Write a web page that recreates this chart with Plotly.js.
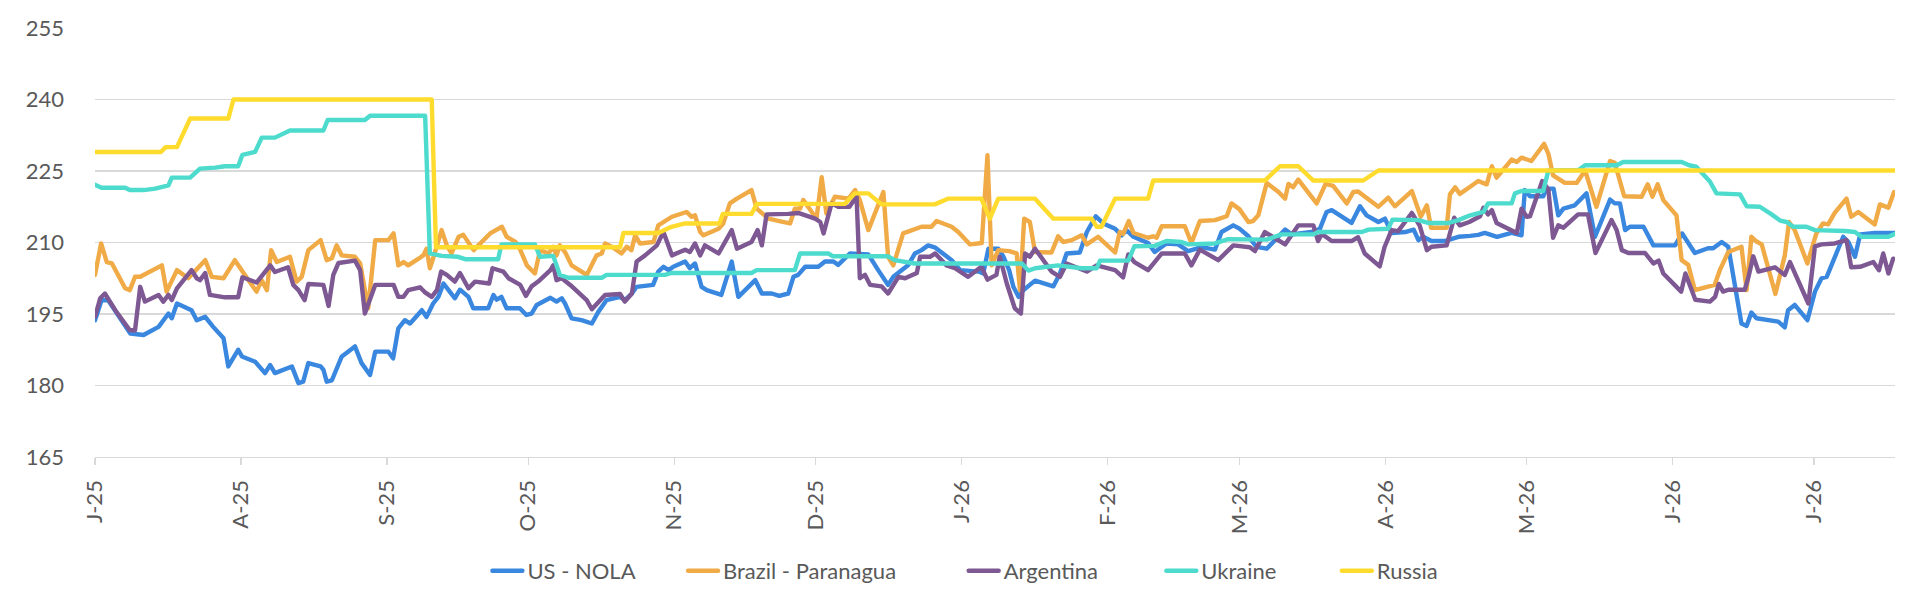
<!DOCTYPE html>
<html>
<head>
<meta charset="utf-8">
<script src="https://cdn.plot.ly/plotly-3.0.1.min.js"></script>
<style>
html,body{margin:0;padding:0;background:#fff;}
#chart{width:1920px;height:608px;}
path.js-line{stroke-linejoin:round;stroke-linecap:round;}
</style>
</head>
<body>
<div id="chart"></div>
<script>
// x values are days since 1 July 2025, y values in USD/t
const usNola = [[0,193.7],[1.4,197.9],[2.8,197.9],[7.5,190.9],[10.3,190.6],[13.5,192.3],[15.6,195.1],[16.3,194.1],[17.4,197.2],[20.5,195.8],[21.6,193.7],[23.4,194.4],[25.1,192.3],[27.3,189.9],[28.3,184],[30.4,187.5],[31.2,186.1],[34,185],[36.1,182.6],[37.2,184.3],[38.2,182.6],[41.8,184],[43.2,180.5],[44.2,180.8],[45.3,184.7],[47.9,184],[48.5,183.3],[49.2,180.8],[50.3,181.1],[52.4,186.1],[55.2,188.2],[56.6,184.7],[58.4,182.2],[59.5,187.1],[62.3,187.1],[63.3,185.7],[64.4,192],[65.8,193.7],[66.9,193],[69.4,195.8],[70.4,194.4],[71.8,197.2],[72.9,198.6],[74,201.4],[75.4,199.6],[76.4,198.3],[77.5,200.1],[78.6,199],[79.3,198.6],[80.3,196.2],[83.5,196.2],[84.6,199],[85.3,198],[86.3,198.6],[87.4,196.2],[90.2,196.2],[91.6,194.8],[92.7,195.1],[93.8,196.9],[96.7,198.4],[98,197.6],[99.1,198.3],[99.8,197.2],[101.2,194.1],[103.3,193.7],[105.5,193],[106.9,195.5],[108.6,197.9],[111.5,198.6],[112.5,197.9],[114,199.3],[115,200.7],[118.5,201.1],[119.6,203.9],[120.7,204.9],[121.8,204.2],[122.8,204.9],[125.3,206],[126.3,204.6],[127.4,205.6],[128.8,200.7],[129.9,200],[133,199],[135.2,206],[136.6,198.6],[140.2,202.1],[141.6,199.3],[143.7,199.3],[145.3,198.8],[147.2,199.3],[148.3,202.8],[149.3,203.2],[150.8,204.9],[153.6,204.9],[155,206],[156.8,206],[157.8,205.3],[160.3,207.7],[164.2,207.5],[166.3,204.2],[168.4,201.1],[169.5,202.8],[171.6,204.6],[172.7,205.3],[174.1,207.7],[175.5,208.4],[176.9,209.4],[178.3,209],[181.9,206.3],[183.7,204.2],[187.6,203.9],[188.6,203.5],[189.7,208.7],[191.8,208.7],[192.9,207],[194.1,204.2],[195,200.7],[196.1,198.6],[197.1,200],[199.6,202],[203.5,200.8],[204.9,203.5],[206.3,207.7],[209.1,207.9],[210.6,212.2],[212.5,215.5],[214.1,214],[216.6,212.9],[218,211.5],[219,212.6],[220.5,211.2],[223.6,209.9],[225,208],[226.5,209.1],[227.5,209.8],[230,209.6],[232.1,208.2],[233.9,208.7],[234.6,209.1],[237.8,208.5],[239.2,212.2],[241.7,213.6],[243,212.9],[244.9,211.3],[246.6,209.1],[248.8,208.7],[252.7,212.7],[254.1,211.7],[258.3,212.2],[260.1,212.9],[261.5,216.4],[262.6,216.8],[266.8,214.1],[268.6,217.6],[270,215.7],[272.5,214.3],[273.9,215],[275.3,212],[278.2,212.2],[280,212.7],[281,210.5],[282,211.2],[283.8,210.3],[286.6,210.3],[289.5,211.2],[292,211.4],[293.7,211.6],[295.1,212],[297.7,211.2],[300.8,212],[302.9,211.5],[303.6,221],[304.7,219.7],[307.5,219.7],[308.2,221.3],[309.7,221.3],[310.7,215.7],[311.8,217.1],[314.2,217.8],[316.7,220.3],[318.5,211.2],[321.7,219],[322.7,218.2],[323.8,218.2],[324.9,212.6],[325.9,213.3],[328.8,213.3],[330.9,209.4],[335.5,209.4],[337,211.9],[338.3,210.1],[339.7,207.8],[342.5,208.8],[343.6,208.8],[345.4,210.1],[346.8,209.1],[349.6,193],[350.7,192.5],[351.7,195.3],[352.8,194.1],[357.4,193.4],[358.8,192.2],[359.5,195.8],[360.9,196.9],[363.6,193.7],[365.2,199.7],[366.6,202.5],[367.7,202.8],[371.2,211.2],[372.3,210.1],[373.7,207],[374.8,211.7],[377.9,212],[382.1,212]];

const brazil = [[0,203.2],[1.3,209.8],[2.5,205.9],[3.6,205.6],[6.4,200.4],[7.4,200],[8.5,202.8],[9.6,202.8],[14.2,205.2],[15.2,199.7],[17.4,204.2],[19.8,202.5],[23.4,206.3],[24.8,202.8],[27.3,202.5],[29.7,206.3],[32.6,202.1],[34.3,199.7],[35.4,202.1],[36.5,200],[37.4,208.4],[38.6,205.9],[41.4,207],[42.8,201.8],[43.9,202.8],[45.3,208.4],[47.9,210.5],[49.2,206.3],[50.3,206.7],[51.3,209.4],[52.4,207.3],[55.2,207],[56.3,205.6],[58,196.2],[59.5,210.5],[62.3,210.5],[63.4,211.9],[64.4,205.2],[65.5,205.9],[66.5,205.2],[68.7,206.6],[69.7,207.3],[70.4,208.7],[71.1,204.6],[71.9,207],[73.6,212.6],[74.7,209.4],[75.7,207.7],[77.2,211.2],[78.2,211.6],[80.4,208.4],[82.1,210.2],[83.9,211.9],[86.4,213.3],[87.4,211.2],[89.2,210.2],[89.9,209.4],[91.7,205.2],[93.4,203.5],[94.5,208.4],[96.3,207.7],[97.3,209.1],[98,207.3],[98.7,209.4],[99.8,208],[101.2,205.2],[104.4,203.2],[106.5,207.3],[107.6,207.7],[108.3,209.8],[109.7,209.1],[111.8,207.7],[112.9,209.1],[113.9,208.4],[114.7,211.5],[115.7,209.8],[118.6,210.1],[119.6,213.6],[120.7,214.3],[122.5,215.4],[125.6,216.4],[126.7,215.4],[127.4,215.7],[128.5,212.2],[129.2,211.5],[132.4,212.9],[133.4,214],[134.8,218.2],[136.3,219.2],[139.4,221],[140.5,217.1],[143,215],[145.3,214.5],[147.6,214],[148.6,217.1],[149.7,217.1],[150.4,218.9],[151.8,217.1],[153.2,215],[154.3,223.7],[155.3,216.1],[157.1,219.6],[160,219.2],[161.4,221],[162.4,218.9],[164.2,212.6],[167.4,220.6],[168.4,207],[169.5,205.2],[171.6,211.9],[175.5,213.3],[177.6,213.3],[178.7,214.5],[181.9,213.3],[183.3,212.2],[185.8,209.6],[188.3,209.9],[189.5,228.3],[190.4,205.2],[191.8,208.4],[194.1,208.2],[195.7,207.7],[196.4,200],[197.3,215],[198.5,214.3],[199.6,208],[203.1,207.9],[204.5,211.3],[205.6,210.1],[207.4,210.5],[209.5,211.5],[210.6,209.6],[213,211.2],[216.6,207.9],[217.6,212.2],[218.3,211.8],[219.5,214.5],[220.5,212],[223.6,211],[224.7,211.3],[225.4,211],[226.5,213.4],[231.4,213.4],[232.8,209.9],[234.6,214.5],[237.8,214.7],[240.3,215.5],[241.3,218.2],[243,217],[244.9,214.3],[245.9,214.5],[247,215.7],[248.8,222.5],[251.3,220.6],[252.7,219.2],[253.4,222.3],[254.4,221.6],[255.5,223.2],[259.4,218.2],[261.3,222.3],[262.9,221.9],[265.8,218.2],[267.2,220.6],[268.2,220.7],[272.5,217.5],[274.6,219.4],[276,217.6],[279.6,220.8],[281.5,215.4],[282.8,217.8],[283.7,213.1],[287,213.1],[287.7,220.1],[288.8,221.6],[289.8,220.2],[292,221.7],[293.7,222.9],[295.5,222.2],[296.6,226],[297.6,223.6],[300.8,227.4],[301.9,226.9],[302.9,227.8],[305,227.1],[307.7,230.7],[308.6,228.6],[309.6,224.1],[312.1,222.5],[314.6,222.5],[316.4,225.1],[318.8,217.5],[321.7,227.1],[322.7,226.7],[324.7,219.7],[328.4,219.6],[329.7,222.2],[330.7,219.6],[331.8,222.2],[333,218.9],[335.8,215.7],[336.9,206.3],[338.3,205.3],[339.7,200],[343.9,201.1],[345,204.2],[346.8,208],[349.6,209.1],[350.7,200],[351.7,211.2],[352.8,210.2],[353.9,209.6],[356.8,199.2],[358.8,207.3],[359.7,214.3],[360.9,212.6],[363.6,205.6],[365.5,211.9],[366.9,214],[368,213.8],[369.4,216.2],[371.9,219.2],[372.9,215.4],[374.4,216.4],[377.9,213.8],[379,218],[380.8,217.3],[382,220.6]];

const argentina = [[0,194.4],[1.1,198.3],[2.1,199.3],[4.3,195.8],[7.4,191.6],[8.5,191.6],[9.6,200.7],[10.6,197.6],[13.5,199],[14.5,197.6],[15.6,199],[16.3,197.9],[17.4,200.4],[20.5,204.2],[21.6,202.5],[22.3,202.1],[23.4,203.6],[24.4,199],[27.6,198.5],[30.4,198.5],[31.3,202.7],[34.3,201.6],[37.2,205.2],[38.2,203.8],[41,204.8],[42.1,201.1],[43.2,200],[44.5,197.9],[45.3,201.3],[48.5,201.1],[49.6,196.7],[50.6,203.2],[51.7,205.7],[55.2,206.2],[56.3,204.2],[57.3,195.1],[59.5,201.1],[63.4,201.1],[64.4,198.6],[65.5,198.6],[66.5,200],[69,200.6],[70,199.6],[71.5,198.6],[72.6,200],[73.5,203.9],[74.7,203.2],[76.4,201.8],[77.5,203.6],[79.3,200.4],[80.7,201.8],[83.7,201.4],[84.4,204.6],[86.7,203.9],[87.8,202.5],[90.3,201.1],[91.5,198.8],[92.7,200.8],[94.1,201.8],[96.7,204.2],[97.3,205.2],[98,202.1],[99.1,202.5],[100.9,201.1],[104.4,197.9],[105.5,196],[108.3,199],[111.5,199.2],[112.5,197.6],[114,199.3],[115,206],[116.8,207.3],[119.3,209.4],[120.7,212.2],[122.5,207.3],[125.3,208.5],[126.3,208],[127.4,209.8],[128.5,207.3],[129.5,209.4],[132.4,207.7],[135.2,212.6],[136.3,208.7],[139.4,210.1],[140.7,212.6],[141.6,209.4],[142.6,215.9],[145.5,215.9],[147.2,216],[149.3,216.2],[152.9,215],[154,214.3],[154.7,211.9],[156.4,218.2],[157.8,217.5],[160.2,217.5],[161.7,219.7],[162.4,202.5],[163.5,203.2],[164.6,201.1],[167,200.8],[168.4,199.3],[170.6,202.8],[172,202.5],[174.5,203.6],[175.2,207],[177.3,207],[178.4,207.7],[180.8,205.2],[182.6,204.6],[185.4,202.8],[188.2,204.9],[189.5,202.2],[191.4,203.2],[192.1,207],[193.6,201.4],[195.3,196.2],[196.6,195.1],[197.5,207.7],[198.5,207],[199.6,208.7],[203.1,203.9],[204.9,202.8],[206.3,205.6],[210.6,203.9],[212.7,205.2],[216.6,204.2],[218.3,202.7],[219.4,207.5],[220.7,205.9],[223.6,204.2],[225,205.9],[226.5,207.7],[231.4,207.7],[232.8,205.2],[234.6,208.5],[238.5,206.3],[241.7,209.4],[243,209.3],[245.2,209],[246.3,208.2],[247.4,210.1],[248.4,212.2],[252.7,209.6],[255.5,213.6],[258.7,213.6],[259.7,210.3],[260.5,211.8],[262.6,210.3],[266.8,210.3],[268.2,211.1],[269.6,207.7],[272.8,205],[273.8,209],[275.3,212.6],[276.7,212.4],[279.6,216.2],[281.3,213.5],[282.8,208.4],[283.8,209.1],[287,209.4],[288.6,215.2],[289.8,213.6],[291.8,214.3],[294.1,215.5],[294.8,217.3],[295.8,215.9],[296.6,216.8],[297.6,214.1],[301.9,212],[302.9,217.1],[304,215.4],[304.7,215.5],[307.3,222.9],[308.6,221.1],[309.6,211],[310.7,213.6],[311.8,213.1],[314.9,215.9],[317,215.9],[318.6,207.8],[322,214.7],[323.1,212.6],[324.2,208.4],[325.6,207.8],[329.1,207.8],[330.9,205.6],[332,206.2],[333,203.5],[336.8,199.7],[337.7,203.5],[339.8,198],[342.9,197.6],[344,198.6],[344.8,201.3],[345.7,199.7],[346.8,200.1],[350.3,200.1],[351,202.4],[352.1,207.1],[353.2,203.9],[356.7,204.8],[358.8,203.2],[359.9,205.9],[361.7,202.1],[363.8,197.2],[365.2,209.2],[366.6,209.6],[369.4,209.8],[371.9,210.5],[372.9,204.8],[374.8,204.9],[377.6,205.9],[378.8,204.2],[379.7,207.7],[380.8,203.5],[381.8,206.6]];

const ukraine = [[0,222.1],[1.4,221.5],[6.4,221.5],[7.4,221],[10.3,221],[12.8,221.3],[15.6,222],[16.3,223.6],[20.2,223.6],[22.3,225.5],[25.5,225.7],[27.6,226],[30.4,226],[31.3,228.4],[34,229],[35.4,232],[38.2,232],[41.4,233.5],[48.5,233.5],[49.4,235.7],[57.3,235.7],[58.4,236.6],[70.1,236.6],[71.1,207.7],[73.6,207.2],[77.1,207],[78.6,206.5],[85.6,206.5],[86.3,209.6],[93.4,209.6],[94.5,207],[97.3,207.2],[98.7,203.2],[100.5,202.6],[107.6,202.6],[108.6,203.2],[121,203.2],[122.4,203.6],[139.4,203.6],[140.5,204.2],[148.6,204.2],[149.7,207.7],[155.7,207.7],[156.7,207.1],[168.4,207.1],[169.8,206.3],[174.1,205.6],[193.9,205.7],[196.8,205.6],[198.2,204.1],[199.6,204.6],[204.5,205.2],[209.5,204.6],[212.7,204.6],[213.4,206.2],[219.4,206.2],[220.7,209.2],[225,209.3],[227.5,210.3],[230.7,210.1],[232.1,209.6],[237.8,209.8],[240.6,210.7],[248.8,210.6],[251.9,211.7],[258.7,211.7],[259.7,212.2],[269,212.2],[270.4,212.7],[274.6,212.9],[275.5,214.8],[281,214.7],[283.1,214.1],[287.4,214.1],[289.5,214.7],[292,215.7],[294.8,216.4],[295.8,218.2],[300.8,218.2],[301.5,220.3],[302.9,220.8],[307.5,220.8],[308.6,225.1],[315,225.2],[316.4,226.2],[323.1,226.2],[324.5,226.9],[336.9,226.9],[338.5,226.2],[340,225.9],[341.8,224.1],[342.9,222.8],[344.3,220.3],[349.3,220.1],[350.7,217.6],[353.5,217.5],[356,215.9],[357.8,214.6],[359.2,214.3],[360.6,213.3],[363.4,213.3],[365.2,212.6],[371.6,212.4],[373.7,212.2],[375.1,211.2],[380.8,211.2],[382.1,211.8]];

const russia = [[0,229],[14,229],[15,230],[17.4,230],[20.2,236],[28.3,236],[29.4,240],[71.5,240],[72.4,209],[111.5,209],[112.2,212],[119.6,212],[122.4,213.3],[125.3,214],[132.6,214],[133.3,216],[139.4,216],[140.5,218.1],[159.2,218.1],[161.3,220.3],[164.2,220.3],[167,218],[178.3,218],[181.1,219.2],[188.2,219.2],[190,215],[191.8,219.2],[199.6,219.2],[203.5,215],[211.6,215],[212.7,213.3],[213.7,213.3],[216.6,219.2],[223.6,219.2],[224.7,223],[248.4,223],[251.6,226],[255.5,226],[258.7,223],[269.3,223],[272.5,225.1],[382.1,225.1]];

const seriesNames = ['US - NOLA','Brazil - Paranagua','Argentina','Ukraine','Russia'];
const seriesData = [usNola, brazil, argentina, ukraine, russia];
const seriesColors = ['#3A87E0','#F0AA46','#7D5893','#4CDBCC','#FFDB2E'];

const tickDates = ['2025-07-01','2025-08-01','2025-09-01','2025-10-01','2025-11-01','2025-12-01','2026-01-01','2026-02-01','2026-03-01','2026-04-01','2026-05-01','2026-06-01','2026-07-01'];
const tickLabels = ['J-25','A-25','S-25','O-25','N-25','D-25','J-26','F-26','M-26','A-26','M-26','J-26','J-26'];

const T0 = Date.UTC(2025,6,1);
const toDate = d => new Date(T0 + d*86400000).toISOString().replace('T',' ').slice(0,19);

const legendX = [0.2180,0.3267,0.4826,0.5924,0.6899];
const legendKeys = ['legend','legend2','legend3','legend4','legend5'];

const traces = seriesData.map((s,i) => ({
  type:'scatter', mode:'lines', name:seriesNames[i],
  x:s.map(p=>toDate(p[0])), y:s.map(p=>p[1]),
  line:{color:seriesColors[i], width:4.4},
  legend:legendKeys[i], hoverinfo:'skip'
}));

const layout = {
  width:1920, height:608,
  margin:{l:94.5, r:25.3, t:27.7, b:151.3, autoexpand:false},
  paper_bgcolor:'#fff', plot_bgcolor:'#fff',
  font:{family:'Lato, sans-serif', size:22, color:'#595959'},
  showlegend:true,
  xaxis:{
    type:'date', range:[toDate(0), toDate(382.2)],
    tickmode:'array', tickvals:tickDates, ticktext:tickLabels,
    tickangle:-90, ticks:'outside', ticklen:7, tickwidth:1.3, tickcolor:'#d9d9d9',
    showline:true, linecolor:'#d9d9d9', linewidth:1.3,
    showgrid:false, zeroline:false, ticklabelstandoff:6,
    tickfont:{family:'Lato, sans-serif', size:22, color:'#595959'}
  },
  yaxis:{
    range:[165,255], tick0:165, dtick:15,
    gridcolor:'#d9d9d9', gridwidth:1.3, zeroline:false, showline:false,
    ticks:'', ticklabelstandoff:30,
    tickfont:{family:'Lato, sans-serif', size:22, color:'#595959'}
  }
};
legendKeys.forEach((k,i)=>{
  layout[k] = {orientation:'h', x:legendX[i], xanchor:'left', y:-0.2657, yanchor:'middle',
    bgcolor:'rgba(0,0,0,0)', font:{family:'Lato, sans-serif', size:22, color:'#595959'}};
});

Plotly.newPlot('chart', traces, layout, {displayModeBar:false, staticPlot:true});
</script>
</body>
</html>
